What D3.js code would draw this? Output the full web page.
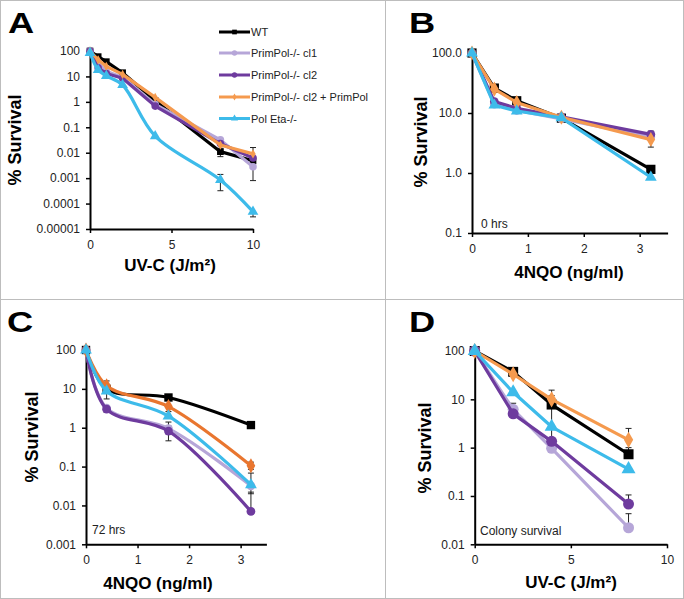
<!DOCTYPE html>
<html><head><meta charset="utf-8">
<script src="https://cdn.jsdelivr.net/npm/d3@7"></script>
<style>body{margin:0;background:#fff} svg{display:block;font-family:"Liberation Sans",Arial,Helvetica,sans-serif}</style>
</head><body>
<svg id="c" width="684" height="599"></svg>
<script>
// ---------- data ----------
const seriesNames = ["WT", "PrimPol-/- cl1", "PrimPol-/- cl2", "PrimPol-/- cl2 + PrimPol", "Pol Eta-/-"];

// Panel A: UV-C
const doseA = [0, 0.5, 1, 2, 4, 8, 10];
const survA_WT = [100, 60, 38, 14, 1.1, 0.011, 0.0048];
const survA_cl1 = [100, 35, 16, 9, 0.8, 0.032, 0.0028];
const survA_cl2 = [100, 22, 13, 8.5, 0.68, 0.023, 0.0062];
const survA_rescue = [100, 45, 25, 12, 1.5, 0.02, 0.009];
const survA_eta = [85, 18, 10.5, 4.6, 0.045, 0.00085, 0.000048];
// [series, doseIndex, low, high]
const errA = [[0, 5, 0.007, 0.015], [0, 6, 0.0008, 0.016], [4, 5, 0.00032, 0.0014], [4, 6, 0.00003, 0.000048]];
const xTicksA = [0, 5, 10];
const yTicksA = [1e-5, 1e-4, 1e-3, 1e-2, 0.1, 1, 10, 100];
const yLabelsA = ["0.00001", "0.0001", "0.001", "0.01", "0.1", "1", "10", "100"];

// Panel B: 4NQO 0 hrs
const doseB = [0, 0.4, 0.8, 1.6, 3.2];
const survB_WT = [100, 26, 16, 8.2, 1.15];
const survB_cl1 = [100, 14, 11, 8, 4.0];
const survB_cl2 = [100, 15.5, 12, 8.6, 4.4];
const survB_rescue = [100, 25, 15, 8.5, 3.6];
const survB_eta = [100, 13.5, 10.8, 8.3, 0.85];
const errB = [[2, 4, 3.8, 5.0], [3, 4, 2.7, 4.2], [0, 1, 22, 30], [0, 3, 7.2, 9.3], [0, 4, 1.0, 1.3]];
const xTicksB = [0, 1, 2, 3];
const yTicksB = [0.1, 1, 10, 100];
const yLabelsB = ["0.1", "1.0", "10.0", "100.0"];

// Panel C: 4NQO 72 hrs
const doseC = [0, 0.4, 1.6, 3.2];
const survC_WT = [100, 10, 6, 1.17];
const survC_cl1 = [100, 3.2, 0.95, 0.032];
const survC_cl2 = [100, 3.0, 0.82, 0.007];
const survC_rescue = [100, 12, 3.5, 0.105];
const survC_eta = [100, 8.8, 2.0, 0.034];
const errC = [[3, 1, 9, 16], [4, 1, 5.5, 11], [3, 2, 2.6, 5], [1, 2, 0.7, 1.4], [2, 2, 0.46, 1.1],
              [3, 3, 0.085, 0.13], [1, 3, 0.02, 0.068], [2, 3, 0.007, 0.022], [2, 1, 2.5, 3.6]];
const xTicksC = [0, 1, 2, 3];
const yTicksC = [0.001, 0.01, 0.1, 1, 10, 100];
const yLabelsC = ["0.001", "0.01", "0.1", "1", "10", "100"];

// Panel D: UV-C colony survival
const doseD = [0, 2, 4, 8];
const survD_WT = [100, 37, 7.8, 0.73];
const survD_cl1 = [100, 6.2, 0.97, 0.022];
const survD_cl2 = [100, 5.0, 1.35, 0.068];
const survD_rescue = [100, 33, 10, 1.45];
const survD_eta = [100, 14, 2.7, 0.36];
const errD = [[0, 1, 37, 45], [0, 2, 1.5, 12], [3, 2, 10, 15.5], [3, 3, 1.45, 2.5], [2, 3, 0.068, 0.105],
              [1, 3, 0.022, 0.043], [1, 1, 6.2, 8.3], [0, 3, 0.73, 1.0]];
const xTicksD = [0, 5, 10];
const yTicksD = [0.01, 0.1, 1, 10, 100];
const yLabelsD = ["0.01", "0.1", "1", "10", "100"];

// ---------- drawing ----------
const svg = d3.select("#c");
const colors = ["#000000", "#b6a6d8", "#6e3b9e", "#f59a4e", "#3dbbea"];
const symbols = [d3.symbolSquare, d3.symbolCircle, d3.symbolCircle, d3.symbolDiamond, d3.symbolTriangle];

// frame
svg.append("rect").attr("x", 0.5).attr("y", 0.5).attr("width", 683).attr("height", 598)
  .attr("fill", "none").attr("stroke", "#bdbdbd");
svg.append("line").attr("x1", 385.5).attr("x2", 385.5).attr("y1", 0).attr("y2", 599).attr("stroke", "#bdbdbd");
svg.append("line").attr("x1", 0).attr("x2", 684).attr("y1", 299.5).attr("y2", 299.5).attr("stroke", "#bdbdbd");

function drawPanel(p) {
  const g = svg.append("g");
  const x = d3.scaleLinear().domain(p.xDomain).range([p.left, p.right]);
  const y = d3.scaleLog().domain(p.yDomain).range([p.bottom, p.top]);

  const xa = d3.axisBottom(x).tickValues(p.xTicks).tickSize(4).tickSizeOuter(0).tickPadding(7).tickFormat(d3.format("d"));
  const ya = d3.axisLeft(y).tickValues(p.yTicks).tickSize(4).tickSizeOuter(0).tickPadding(6)
    .tickFormat(d => p.yLabels[p.yTicks.indexOf(d)]);
  const gx = g.append("g").attr("transform", `translate(0,${p.bottom})`).call(xa);
  const gy = g.append("g").attr("transform", `translate(${p.left},0)`).call(ya);
  [gx, gy].forEach(a => {
    a.select(".domain").attr("stroke", "#000").attr("stroke-width", 2);
    a.selectAll(".tick line").attr("stroke", "#000").attr("stroke-width", 1.5);
    a.selectAll(".tick text").attr("font-size", 12).attr("fill", "#222")
      .attr("font-family", '"Liberation Sans",Arial,sans-serif');
  });

  // labels
  g.append("text").attr("transform", `translate(${p.letter[0]},${p.letter[1]}) scale(1.25,1)`)
    .attr("font-size", 29).attr("font-weight", "bold").text(p.letterText);
  g.append("text").attr("transform", `translate(${p.yTitle[0]},${p.yTitle[1]}) rotate(-90)`)
    .attr("text-anchor", "middle").attr("font-size", 18).attr("font-weight", "bold").text("% Survival");
  g.append("text").attr("x", p.xTitle[0]).attr("y", p.xTitle[1]).attr("text-anchor", "middle")
    .attr("font-size", 17).attr("font-weight", "bold").text(p.xTitleText);
  if (p.note) g.append("text").attr("x", p.note[0]).attr("y", p.note[1]).attr("font-size", 12)
    .attr("fill", "#222").text(p.noteText);

  // error bars
  p.errors.forEach(e => {
    const cx = x(p.dose[e[1]]), v = p.series[e[0]][e[1]];
    const yl = y(e[2]), yh = y(e[3]);
    g.append("line").attr("x1", cx).attr("x2", cx).attr("y1", yl).attr("y2", yh).attr("stroke", "#222").attr("stroke-width", 1);
    if (e[3] !== v) g.append("line").attr("x1", cx - 3).attr("x2", cx + 3).attr("y1", yh).attr("y2", yh).attr("stroke", "#222");
    if (e[2] !== v) g.append("line").attr("x1", cx - 3).attr("x2", cx + 3).attr("y1", yl).attr("y2", yl).attr("stroke", "#222");
  });

  p.series.forEach((s, i) => {
    const pts = s.map((v, j) => [p.dose[j], v]);
    const line = d3.line().x(d => x(d[0])).y(d => y(d[1]))
      .curve(p.smooth[i] ? d3.curveCatmullRom.alpha(0.5) : d3.curveLinear);
    const col = (p.colors && p.colors[i]) || colors[i];
    g.append("path").attr("d", line(pts)).attr("fill", "none").attr("stroke", col)
      .attr("stroke-width", p.lw).attr("stroke-linejoin", "round");
    g.selectAll(null).data(pts).join("path")
      .attr("transform", d => `translate(${x(d[0])},${y(d[1])})`)
      .attr("d", d3.symbol().type(symbols[i]).size(p.msize[i]))
      .attr("fill", col);
  });
}

drawPanel({
  letterText: "A", letter: [8, 33], left: 90, right: 253, top: 51, bottom: 229,
  xDomain: [0, 10], yDomain: [1e-5, 100], xTicks: xTicksA, yTicks: yTicksA, yLabels: yLabelsA,
  yTitle: [21, 140], xTitle: [170, 271], xTitleText: "UV-C (J/m²)",
  dose: doseA, series: [survA_WT, survA_cl1, survA_cl2, survA_rescue, survA_eta], errors: errA,
  smooth: [false, false, false, false, true], lw: 3.2, msize: [45, 45, 45, 25, 50]
});
drawPanel({
  letterText: "B", letter: [409, 33], left: 472, right: 667.6, top: 53, bottom: 233,
  xDomain: [0, 3.5], yDomain: [0.1, 100], xTicks: xTicksB, yTicks: yTicksB, yLabels: yLabelsB,
  yTitle: [427, 142], xTitle: [569, 278], xTitleText: "4NQO (ng/ml)", note: [481, 228], noteText: "0 hrs",
  dose: doseB, series: [survB_WT, survB_cl1, survB_cl2, survB_rescue, survB_eta], errors: errB,
  smooth: [false, false, false, false, false], lw: 3.2, msize: [85, 60, 60, 65, 60]
});
drawPanel({
  letterText: "C", letter: [7, 332], left: 86, right: 266.4, top: 350, bottom: 544.3,
  xDomain: [0, 3.5], yDomain: [0.001, 100], xTicks: xTicksC, yTicks: yTicksC, yLabels: yLabelsC,
  yTitle: [38, 437], xTitle: [158, 589], xTitleText: "4NQO (ng/ml)", note: [92, 534], noteText: "72 hrs",
  dose: doseC, series: [survC_WT, survC_cl1, survC_cl2, survC_rescue, survC_eta], errors: errC,
  smooth: [true, true, true, true, true], lw: 3.2, msize: [70, 60, 60, 65, 60],
  colors: [null, null, null, "#e9762f", null]
});
drawPanel({
  letterText: "D", letter: [409, 332], left: 474.7, right: 667, top: 351, bottom: 544.3,
  xDomain: [0, 10], yDomain: [0.01, 100], xTicks: xTicksD, yTicks: yTicksD, yLabels: yLabelsD,
  yTitle: [431, 448], xTitle: [571, 588], xTitleText: "UV-C (J/m²)", note: [480, 535], noteText: "Colony survival",
  dose: doseD, series: [survD_WT, survD_cl1, survD_cl2, survD_rescue, survD_eta], errors: errD,
  smooth: [false, false, false, false, false], lw: 3.2, msize: [100, 95, 95, 75, 85]
});

// legend
const legY = [32, 53, 75, 97, 118.5];
const leg = svg.append("g");
seriesNames.forEach((n, i) => {
  leg.append("line").attr("x1", 219).attr("x2", 250).attr("y1", legY[i]).attr("y2", legY[i])
    .attr("stroke", colors[i]).attr("stroke-width", 3);
  leg.append("path").attr("transform", `translate(234.5,${legY[i]})`)
    .attr("d", d3.symbol().type(symbols[i]).size(i === 3 ? 14 : 22)).attr("fill", colors[i]);
  leg.append("text").attr("x", 251).attr("y", legY[i] + 4).attr("font-size", 11).attr("fill", "#222").text(n);
});
</script>
</body></html>
